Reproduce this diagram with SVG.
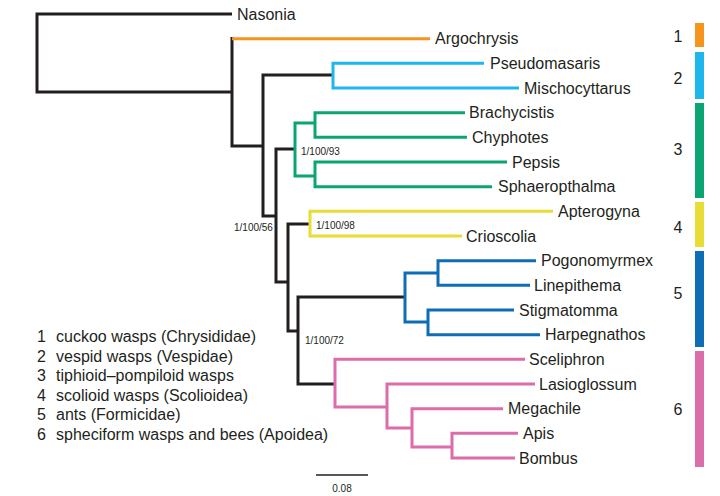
<svg xmlns="http://www.w3.org/2000/svg" width="720" height="496" viewBox="0 0 720 496">
<style>
text{font-family:"Liberation Sans",Arial,sans-serif;fill:#231F20}
.tip{font-size:16px}
.sup{font-size:10px}
.leg{font-size:16px}
.num{font-size:16px;text-anchor:middle}
path{fill:none;stroke-width:3;stroke-linejoin:miter;stroke-linecap:butt}
.k{stroke:#231F20}.o{stroke:#F7941E}.c{stroke:#1DB7EE}.g{stroke:#0BA574}.y{stroke:#E8DC37}.b{stroke:#0F6DB6}.p{stroke:#DC6CAA}
</style>
<rect width="720" height="496" fill="#fff"/>
<g id="connectors">
<path class="k" d="M232,14 H37 V92 H232"/>
<path class="k" d="M232,37 V146 H263"/>
<path class="o" d="M232,38.7 H430"/>
<path class="k" d="M333,75 H263 V216 H276"/>
<path class="c" d="M484,63.3 H333 V88 H519"/>
<path class="k" d="M295,149 H276 V282 H288"/>
<path class="g" d="M315,123 H295 V176 H315"/>
<path class="g" d="M465,112.7 H315 V137.3 H467"/>
<path class="g" d="M507,162 H315 V186.7 H492"/>
<path class="k" d="M310,224 H288 V331 H298"/>
<path class="y" d="M553,211.3 H310 V236 H462"/>
<path class="k" d="M405,297 H298 V384 H335"/>
<path class="b" d="M438,273 H405 V322 H428"/>
<path class="b" d="M536,260.7 H438 V285.3 H530"/>
<path class="b" d="M514,310 H428 V334.7 H540"/>
<path class="p" d="M525,359.3 H335 V407 H387"/>
<path class="p" d="M535,384 H387 V428 H412"/>
<path class="p" d="M503,408.7 H412 V447 H452"/>
<path class="p" d="M518,433.3 H452 V458 H515"/>
</g>
<g id="tips" class="tip">
<g id="Nasonia"><text class="tip" x="237" y="19.5">Nasonia</text></g>
<g id="Argochrysis"><text class="tip" x="435" y="44.2">Argochrysis</text></g>
<g id="Pseudomasaris"><text class="tip" x="490" y="68.8">Pseudomasaris</text></g>
<g id="Mischocyttarus"><text class="tip" x="524" y="93.5">Mischocyttarus</text></g>
<g id="Brachycistis"><text class="tip" x="469" y="118.2">Brachycistis</text></g>
<g id="Chyphotes"><text class="tip" x="472" y="142.8">Chyphotes</text></g>
<g id="Pepsis"><text class="tip" x="512" y="167.5">Pepsis</text></g>
<g id="Sphaeropthalma"><text class="tip" x="498" y="192.2">Sphaeropthalma</text></g>
<g id="Apterogyna"><text class="tip" x="558" y="216.8">Apterogyna</text></g>
<g id="Crioscolia"><text class="tip" x="466" y="241.5">Crioscolia</text></g>
<g id="Pogonomyrmex"><text class="tip" x="541" y="266.2">Pogonomyrmex</text></g>
<g id="Linepithema"><text class="tip" x="534" y="290.8">Linepithema</text></g>
<g id="Stigmatomma"><text class="tip" x="519" y="315.5">Stigmatomma</text></g>
<g id="Harpegnathos"><text class="tip" x="545" y="340.2">Harpegnathos</text></g>
<g id="Sceliphron"><text class="tip" x="529" y="364.8">Sceliphron</text></g>
<g id="Lasioglossum"><text class="tip" x="539" y="389.5">Lasioglossum</text></g>
<g id="Megachile"><text class="tip" x="508" y="414.2">Megachile</text></g>
<g id="Apis"><text class="tip" x="523" y="438.8">Apis</text></g>
<g id="Bombus"><text class="tip" x="519" y="463.5">Bombus</text></g>
</g>
<g id="support">
<text class="sup" x="301" y="155">1/100/93</text>
<text class="sup" x="316" y="229">1/100/98</text>
<text class="sup" x="234" y="231">1/100/56</text>
<text class="sup" x="305" y="344">1/100/72</text>
</g>
<g id="legend" class="leg">
<text class="leg" x="37" y="341.5">1</text><text class="leg" x="56" y="341.5">cuckoo wasps (Chrysididae)</text>
<text class="leg" x="37" y="361.5">2</text><text class="leg" x="56" y="361.5">vespid wasps (Vespidae)</text>
<text class="leg" x="37" y="381">3</text><text class="leg" x="56" y="381">tiphioid–pompiloid wasps</text>
<text class="leg" x="37" y="400.5">4</text><text class="leg" x="56" y="400.5">scolioid wasps (Scolioidea)</text>
<text class="leg" x="37" y="420">5</text><text class="leg" x="56" y="420">ants (Formicidae)</text>
<text class="leg" x="37" y="439.5">6</text><text class="leg" x="56" y="439.5">spheciform wasps and bees (Apoidea)</text>
</g>
<g id="scalebar">
<line x1="316" y1="475" x2="368" y2="475" stroke="#231F20" stroke-width="1.5"/>
<text class="sup" x="342" y="492" text-anchor="middle">0.08</text>
</g>
<g id="groups">
<g id="group1"><rect x="695" y="23" width="9" height="24" fill="#F7941E"/><text class="num" x="678" y="41.5">1</text></g>
<g id="group2"><rect x="695" y="52" width="9" height="47" fill="#1DB7EE"/><text class="num" x="678" y="83.5">2</text></g>
<g id="group3"><rect x="695" y="103" width="9" height="95" fill="#0BA574"/><text class="num" x="678" y="154.5">3</text></g>
<g id="group4"><rect x="695" y="202" width="9" height="45" fill="#E8DC37"/><text class="num" x="678" y="232.5">4</text></g>
<g id="group5"><rect x="695" y="251" width="9" height="96" fill="#0F6DB6"/><text class="num" x="678" y="298.5">5</text></g>
<g id="group6"><rect x="695" y="351" width="9" height="116" fill="#DC6CAA"/><text class="num" x="678" y="414.5">6</text></g>
</g>
</svg>
